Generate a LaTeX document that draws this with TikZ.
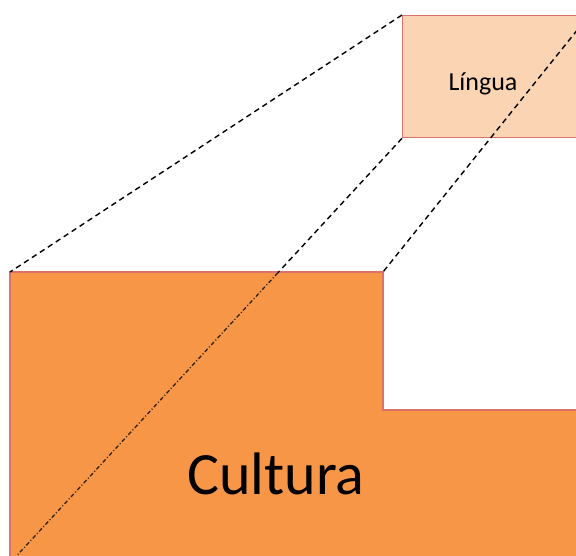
\documentclass[tikz,border=0pt]{standalone}
\usepackage{fontspec}
\setmainfont{Carlito}
\usetikzlibrary{calc}

\definecolor{cultfill}{HTML}{F79646}
\definecolor{lingfill}{HTML}{FBD4B4}
\definecolor{edgered}{HTML}{D9736A}

\begin{document}
\begin{tikzpicture}[
  x=1pt, y=-1pt,
  box/.style={
    draw=edgered,
    line width=1.3pt
  },
  proj/.style={
    draw=black,
    line width=1.4pt,
    dash pattern=on 5.5pt off 4pt
  },
  projin/.style={
    draw=black!75!brown,
    line width=1.3pt,
    dash pattern=on 4pt off 2.2pt on 1pt off 2.2pt
  }
]
  \useasboundingbox (0,0) rectangle (576,556);
  \clip (0,0) rectangle (576,556);

  % the small box
  \node[box,fill=lingfill,rectangle,minimum width=186pt,minimum height=122pt,
        inner sep=0pt,anchor=north west] (lingua) at (402,15) {};
  \node[font=\fontsize{26}{30}\selectfont] (lingtext) at (483,84) {Língua};

  % the big shape
  \coordinate (cul-nw) at (10,272);
  \coordinate (notch) at (383,272);
  \coordinate (notch-in) at (383,410);
  \coordinate (cul-e) at (600,410);
  \coordinate (cul-se) at (600,580);
  \coordinate (cul-sw) at (10,563);
  \path[box,fill=cultfill] (cul-nw) -- (notch) -- (notch-in) -- (cul-e)
    -- (cul-se) -- (10,580) -- cycle;
  \node[font=\fontsize{60}{70}\selectfont] (cultext) at (276,474) {Cultura};

  % projection lines
  \coordinate (cross) at ($(lingua.south west)!0.317!(cul-sw)$);
  \draw[proj] (lingua.north west) -- (cul-nw);
  \draw[proj] (lingua.north east) -- (notch);
  \draw[proj] (lingua.south west) -- (cross);
  \draw[projin] (cross) -- (cul-sw);
\end{tikzpicture}
\end{document}
